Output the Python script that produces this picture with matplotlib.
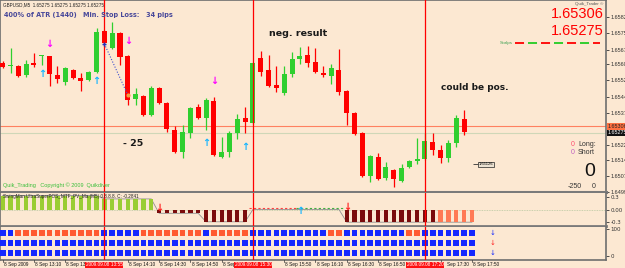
import matplotlib
matplotlib.use("Agg")
import matplotlib.pyplot as plt
import matplotlib.transforms as mtransforms
import numpy as np

# ---------------- data ----------------
opens = [1.65607, 1.65592, 1.65592, 1.65550, 1.65607, 1.65640, 1.65640, 1.65550, 1.65516, 1.65573,
         1.65535, 1.65526, 1.65564, 1.65758, 1.65678, 1.65749, 1.65640, 1.65436, 1.65450, 1.65360,
         1.65488, 1.65417, 1.65289, 1.65185, 1.65275, 1.65398, 1.65346, 1.65426, 1.65161, 1.65185,
         1.65275, 1.65346, 1.65322, 1.65630, 1.65573, 1.65502, 1.65464, 1.65554, 1.65625, 1.65644,
         1.65611, 1.65559, 1.65545, 1.65573, 1.65474, 1.65369, 1.65275, 1.65071, 1.65161, 1.65061,
         1.65099, 1.65047, 1.65113, 1.65142, 1.65151, 1.65232, 1.65194, 1.65156, 1.65227, 1.65341]
highs = [1.65616, 1.65678, 1.65597, 1.65621, 1.65654, 1.65644, 1.65640, 1.65592, 1.65588, 1.65578,
         1.65559, 1.65569, 1.65772, 1.65763, 1.65801, 1.65753, 1.65644, 1.65488, 1.65455, 1.65497,
         1.65493, 1.65422, 1.65308, 1.65313, 1.65398, 1.65412, 1.65441, 1.65445, 1.65256, 1.65284,
         1.65365, 1.65398, 1.65611, 1.65663, 1.65644, 1.65592, 1.65592, 1.65659, 1.65682, 1.65687,
         1.65678, 1.65592, 1.65602, 1.65673, 1.65478, 1.65374, 1.65279, 1.65170, 1.65180, 1.65137,
         1.65104, 1.65128, 1.65147, 1.65251, 1.65275, 1.65275, 1.65218, 1.65242, 1.65360, 1.65384]
lows = [1.65583, 1.65559, 1.65540, 1.65540, 1.65588, 1.65597, 1.65497, 1.65512, 1.65502, 1.65531,
        1.65474, 1.65521, 1.65559, 1.65697, 1.65673, 1.65597, 1.65407, 1.65407, 1.65355, 1.65355,
        1.65412, 1.65279, 1.65180, 1.65156, 1.65251, 1.65341, 1.65289, 1.65166, 1.65156, 1.65161,
        1.65246, 1.65275, 1.65317, 1.65545, 1.65493, 1.65469, 1.65455, 1.65540, 1.65602, 1.65588,
        1.65559, 1.65540, 1.65507, 1.65455, 1.65313, 1.65265, 1.65066, 1.65042, 1.65052, 1.65052,
        1.65019, 1.65042, 1.65109, 1.65128, 1.65147, 1.65170, 1.65132, 1.65137, 1.65208, 1.65265]
closes = [1.65588, 1.65597, 1.65545, 1.65602, 1.65597, 1.65644, 1.65554, 1.65531, 1.65583, 1.65535,
          1.65521, 1.65564, 1.65753, 1.65701, 1.65749, 1.65635, 1.65431, 1.65460, 1.65360, 1.65488,
          1.65417, 1.65294, 1.65185, 1.65279, 1.65393, 1.65346, 1.65431, 1.65170, 1.65185, 1.65275,
          1.65341, 1.65327, 1.65607, 1.65564, 1.65497, 1.65488, 1.65554, 1.65625, 1.65640, 1.65607,
          1.65564, 1.65550, 1.65583, 1.65469, 1.65369, 1.65270, 1.65071, 1.65166, 1.65057, 1.65113,
          1.65057, 1.65109, 1.65142, 1.65151, 1.65237, 1.65194, 1.65156, 1.65227, 1.65346, 1.65279]

price_ticks = [1.65825, 1.65750, 1.65670, 1.65600, 1.65525, 1.65445, 1.65370,
               1.65220, 1.65145, 1.65070, 1.64995]
ask_price = 1.65306
bid_price = 1.65275
scalps_level = 1.65701
marker_box_price = 1.65126

trade_bars = [13, 32, 54]                 # vertical trade lines (bar index)
trade_labels = ["2009.09.08 13:55", "2009.09.08 15:30", "2009.09.08 17:20"]
trade_line_bars = [13, 16]
trade_line_prices = [1.65697, 1.65455]

sell_arrow_bars = [6, 16, 27]
sell_arrow_prices = [1.65697, 1.65711, 1.65521]
buy_arrow_bars = [5, 12, 26, 31]
buy_arrow_prices = [1.65554, 1.65521, 1.65227, 1.65208]

# time axis labels (the ones partly hidden behind the red trade boxes are shown as in the reference)
time_label_bars = [0, 4, 8, 16, 20, 24, 28, 36, 40, 44, 48, 56, 60]
time_labels = ["8 Sep 2009", "8 Sep 13:10", "8 Sep 13", "8 Sep 14:10", "8 Sep 14:30", "8 Sep 14:50",
               "8 Sep", "8 Sep 15:50", "8 Sep 16:10", "8 Sep 16:30", "8 Sep 16:50", "Sep 17:30",
               "8 Sep 17:50"]

# oscillator sub-window (61 values)
osc_values = [0.33, 0.33, 0.33, 0.33, 0.33, 0.33, 0.33, 0.33, 0.33, 0.33,
              0.33, 0.33, 0.33, 0.25, 0.25, 0.25, 0.25, 0.25, 0.25, 0.25,
              -0.09, -0.09, -0.09, -0.09, -0.09, -0.09, -0.29, -0.29, -0.29, -0.29,
              -0.29, -0.29, 0.0, 0.0, 0.0, 0.0, 0.0, 0.0, 0.0, 0.0,
              0.0, 0.0, 0.0, 0.0, -0.30, -0.30, -0.30, -0.30, -0.30, -0.30,
              -0.30, -0.30, -0.30, -0.30, -0.30, -0.30, -0.30, -0.30, -0.30, -0.30,
              -0.30]
osc_state = (["up"] * 20 + ["dn"] * 12 + ["none"] * 12 + ["dn"] * 12 + ["fade"] * 5)
osc_ticks = [0.3, 0.0, -0.3]
osc_ticklabels = ["0.3", "0.00", "-0.3"]

# squares sub-window: row 1 mixed, rows 2-3 all blue (61 columns)
row1 = ("BB" + "O" * 11 + "BBBBB" + "OOOOOOOO" + "BOOOOO" + "B" * 10 + "OO" + "B" * 8 + "OO" + "B" * 7)
row2 = "B" * 61
row3 = "B" * 61

# ---------------- style ----------------
W, H = 625, 268
BG = "#fce8d2"
GREEN = "#2fcf2f"
RED = "#ff0000"
GRID = "#6e6e6e"

fig = plt.figure(figsize=(W / 100, H / 100), dpi=100)
fig.patch.set_facecolor(BG)


def px_box(l, t, r, b):
    return [l / W, 1 - b / H, (r - l) / W, (b - t) / H]


def ftxt(x, y, s, **kw):
    kw.setdefault("va", "center")
    return fig.text(x / W, 1 - y / H, s, **kw)


n = len(opens)
X0 = -0.345
X1 = X0 + 606 / 7.82

# ---------------- main price window ----------------
ax = fig.add_axes(px_box(0, 0, 606, 192))
ax.set_facecolor(BG)
ax.set_xlim(X0, X1)
ax.set_ylim(1.64995, 1.65905)
xi = np.arange(n)
o = np.array(opens); c = np.array(closes)
cols = [GREEN if cc >= oo else RED for oo, cc in zip(o, c)]
ax.vlines(xi, lows, highs, colors=cols, lw=0.9, zorder=3)
body_bottom = np.minimum(o, c)
body_h = np.maximum(np.abs(c - o), 0.00002)
ax.bar(xi, body_h, bottom=body_bottom, width=0.64, color=cols, lw=0, zorder=4)

ax.axhline(ask_price, color="#ff8060", lw=0.8, zorder=2)
ax.axhline(bid_price, color="#cfd7b8", lw=0.8, zorder=2)

for b in trade_bars:
    ax.axvline(b, color="#ff0000", lw=0.9, zorder=5)

ax.plot(trade_line_bars, trade_line_prices, color="#4050d0", lw=0.8, ls=(0, (1, 1.5)), zorder=6)
ax.plot(trade_line_bars[0], trade_line_prices[0], marker="+", color="#2030c0", ms=3.5, mew=1, zorder=7)
ax.plot(trade_line_bars[1], trade_line_prices[1], marker="o", color="#f0a040", ms=2, zorder=7)

for b, p in zip(sell_arrow_bars, sell_arrow_prices):
    ax.text(b, p, "\u2193", color="#ff00ff", fontsize=7, fontweight="bold", ha="center", va="center", zorder=8)
for b, p in zip(buy_arrow_bars, buy_arrow_prices):
    ax.text(b, p, "\u2191", color="#14b4ff", fontsize=7, fontweight="bold", ha="center", va="center", zorder=8)

# scalps level line (red / green alternating dashes) to the right of the last bar
ax.hlines(scalps_level, n + 5.5, n + 16.4, color="#ff0000", lw=1.3, linestyles=[(0, (5, 9.4))], zorder=5)
ax.hlines(scalps_level, n + 5.5, n + 16.4, color="#22cc22", lw=1.3, linestyles=[(7.2, (5, 9.4))], zorder=5)
ax.text(n + 5.2, scalps_level, "Scalps", fontsize=3.2, color="#3aa050", ha="right", va="center",
        family="Liberation Sans")

# small price box
ax.hlines(marker_box_price, n + 0.1, n + 0.8, color="#333", lw=0.6)
ax.text(n + 0.85, marker_box_price, "1.65126", fontsize=2.9, family="Liberation Sans", ha="left",
        va="center", bbox=dict(boxstyle="square,pad=0.15", fc="#ede3d3", ec="#222", lw=0.5))

ax.yaxis.tick_right()
ax.set_yticks(price_ticks)
ax.set_yticklabels([f"{p:.5f}" for p in price_ticks])
ax.tick_params(axis="y", labelsize=4.0, length=2, pad=1.2, colors="#333", width=0.6)
for lab in ax.get_yticklabels():
    lab.set_family("Liberation Sans")
ax.set_xticks([])
for s in ["top", "left", "right"]:
    ax.spines[s].set_color(GRID)
    ax.spines[s].set_linewidth(1.2)
ax.spines["bottom"].set_color("#7a7a7a")
ax.spines["bottom"].set_linewidth(2.2)

tr = mtransforms.blended_transform_factory(ax.transAxes, ax.transData)
ax.text(1.003, ask_price, f"{ask_price:.5f}", transform=tr, fontsize=3.9, family="Liberation Sans",
        ha="left", va="center", color="#222",
        bbox=dict(boxstyle="square,pad=0.12", fc="#ff7040", ec="none"), clip_on=False, zorder=10)
ax.text(1.003, bid_price, f"{bid_price:.5f}", transform=tr, fontsize=3.9, family="Liberation Sans",
        ha="left", va="center", color="#ffffff",
        bbox=dict(boxstyle="square,pad=0.12", fc="#111111", ec="none"), clip_on=False, zorder=11)

# ---------------- oscillator window ----------------
ax2 = fig.add_axes(px_box(0, 193, 606, 226))
ax2.set_facecolor(BG)
ax2.set_xlim(X0, X1)
ax2.set_ylim(-0.39, 0.39)
state_col = {"up": "#9acd32", "dn": "#7a0c0c", "fade": "#ff7a55", "none": BG}
ox = np.arange(len(osc_values))
bar_cols = [state_col[s] for s in osc_state]
ax2.bar(ox, osc_values, width=0.55, color=bar_cols, lw=0, zorder=3)
ax2.plot(ox, osc_values, color="#909090", lw=0.6, zorder=2)
ax2.axhline(0, color="#b8c8a0", lw=0.6, ls=(0, (1, 1)), zorder=1)
seg_red = [i for i, s in enumerate(osc_state) if s == "none"][:6]
seg_grn = [i for i, s in enumerate(osc_state) if s == "none"][6:]
ax2.plot([seg_red[0] - 0.5, seg_red[-1] + 0.5], [0.03, 0.03], color="#ff4040", lw=0.8, ls=(0, (2, 2)))
ax2.plot([seg_grn[0] - 0.5, seg_grn[-1] + 0.5], [0.03, 0.03], color="#40b040", lw=0.8, ls=(0, (2, 2)))
ax2.text(20, 0.04, "\u2193", color="#ff2020", fontsize=7, fontweight="bold", ha="center", va="center", zorder=6)
ax2.text(38, -0.03, "\u2191", color="#14b4ff", fontsize=7, fontweight="bold", ha="center", va="center", zorder=6)
ax2.text(44, 0.05, "\u2193", color="#ff2020", fontsize=7, fontweight="bold", ha="center", va="center", zorder=6)
for b in trade_bars:
    ax2.axvline(b, color="#ff0000", lw=0.9, zorder=5)
ax2.yaxis.tick_right()
ax2.set_yticks(osc_ticks)
ax2.set_yticklabels(osc_ticklabels)
ax2.tick_params(axis="y", labelsize=4.0, length=2, pad=1.2, colors="#333", width=0.6)
ax2.set_xticks([])
for s in ["left", "right", "top"]:
    ax2.spines[s].set_color(GRID)
    ax2.spines[s].set_linewidth(1.2)
ax2.spines["top"].set_visible(False)
ax2.spines["bottom"].set_color("#7a7a7a")
ax2.spines["bottom"].set_linewidth(2.0)
ax2.text(0.005, 0.88, "SwingMan UltraSuperPOS_MTF_PV_Ma (M5) 0.8.8.8. C: -0.2841", transform=ax2.transAxes,
         fontsize=3.3, family="Liberation Sans", color="#222", va="center", ha="left", zorder=7)

# ---------------- squares window ----------------
ax3 = fig.add_axes(px_box(0, 227, 606, 260))
ax3.set_facecolor(BG)
ax3.set_xlim(X0, X1)
ax3.set_ylim(-14.8, 107.4)
sq_col = {"B": "#1428ff", "O": "#ff5a30"}
row_levels = [85, 48, 11]
for lev, row in zip(row_levels, [row1, row2, row3]):
    cx = np.arange(len(row))
    ax3.scatter(cx, [lev] * len(row), marker="s", s=17, c=[sq_col[ch] for ch in row], lw=0, zorder=3)
ax3.text(62.6, row_levels[0], "\u2193", color="#1428ff", fontsize=5, ha="center", va="center")
ax3.text(62.6, row_levels[1], "\u2193", color="#ff2020", fontsize=5, ha="center", va="center")
ax3.text(62.6, row_levels[2], "\u2193", color="#1428ff", fontsize=5, ha="center", va="center")
for b in trade_bars:
    ax3.axvline(b, color="#ff0000", lw=0.9, zorder=5)
ax3.yaxis.tick_right()
ax3.set_yticks([100, 0])
ax3.set_yticklabels(["100", "0"])
ax3.tick_params(axis="y", labelsize=4.0, length=2, pad=1.2, colors="#333", width=0.6)
ax3.set_xticks([])
for s in ["left", "right", "bottom"]:
    ax3.spines[s].set_color(GRID)
    ax3.spines[s].set_linewidth(1.2)
ax3.spines["top"].set_visible(False)

# ---------------- time axis ----------------
axt = fig.add_axes(px_box(0, 260, 606, 268))
axt.set_xlim(X0, X1)
axt.set_ylim(0, 1)
axt.axis("off")
for i, lab in zip(time_label_bars, time_labels):
    axt.plot([i, i], [0.75, 1.0], color="#333", lw=0.5)
    off = 0.85 if lab.startswith("Sep") else 0.15
    axt.text(i + off, 0.42, lab, fontsize=3.4, family="Liberation Sans", ha="left", va="center", color="#111")
for b, lab in zip(trade_bars, trade_labels):
    axt.text(b, 0.42, lab, fontsize=3.4, family="Liberation Sans", ha="center", va="center", color="white",
             bbox=dict(boxstyle="square,pad=0.12", fc="#ff1010", ec="none"), zorder=5)

# ---------------- annotations ----------------
ftxt(3, 5, "GBPUSD,M5  1.65275 1.65275 1.65275 1.65275", fontsize=3.3, family="Liberation Sans", color="#222")
ftxt(4, 15.5, "400% of ATR (1440)", fontsize=4.7, fontweight="bold", color="#48489a")
ftxt(83, 15.5, "Min. Stop Loss:   34 pips", fontsize=4.7, fontweight="bold", color="#48489a")
ftxt(269, 33, "neg. result", fontsize=6.8, fontweight="bold", color="#1a1a1a")
ftxt(441, 87, "could be pos.", fontsize=6.5, fontweight="bold", color="#1a1a1a")
ftxt(123, 144, "- 25", fontsize=6.8, fontweight="bold", color="#1a1a1a")
ftxt(3, 185, "Quik_Trading   Copyright \u00a9 2009  Quikdiver", fontsize=4.0, family="Liberation Sans",
     color="#3cbf3c")
ftxt(603, 3.6, "Quik_Trader \u00a9", fontsize=3.2, family="Liberation Sans", color="#555", ha="right")
ftxt(604, 18.5, f"{ask_price:.5f}", fontsize=10.5, family="Liberation Sans", color="#ff0000", ha="right",
     va="baseline")
ftxt(604, 34.5, f"{bid_price:.5f}", fontsize=10.5, family="Liberation Sans", color="#ff0000", ha="right",
     va="baseline")
ftxt(575, 144, "0", fontsize=5, family="Liberation Sans", color="#ff5070", ha="right")
ftxt(578, 144, "Long:", fontsize=5, family="Liberation Sans", color="#333")
ftxt(575, 153, "0", fontsize=5, family="Liberation Sans", color="#c060c0", ha="right")
ftxt(578, 153, "Short", fontsize=5, family="Liberation Sans", color="#333")
ftxt(590, 171, "0", fontsize=14, family="Liberation Sans", color="#111", ha="center")
ftxt(582, 186, "-250", fontsize=5, family="Liberation Sans", color="#333", ha="right")
ftxt(594, 186, "0", fontsize=5, family="Liberation Sans", color="#333", ha="center")

fig.savefig("out.png", dpi=100, facecolor=BG)
